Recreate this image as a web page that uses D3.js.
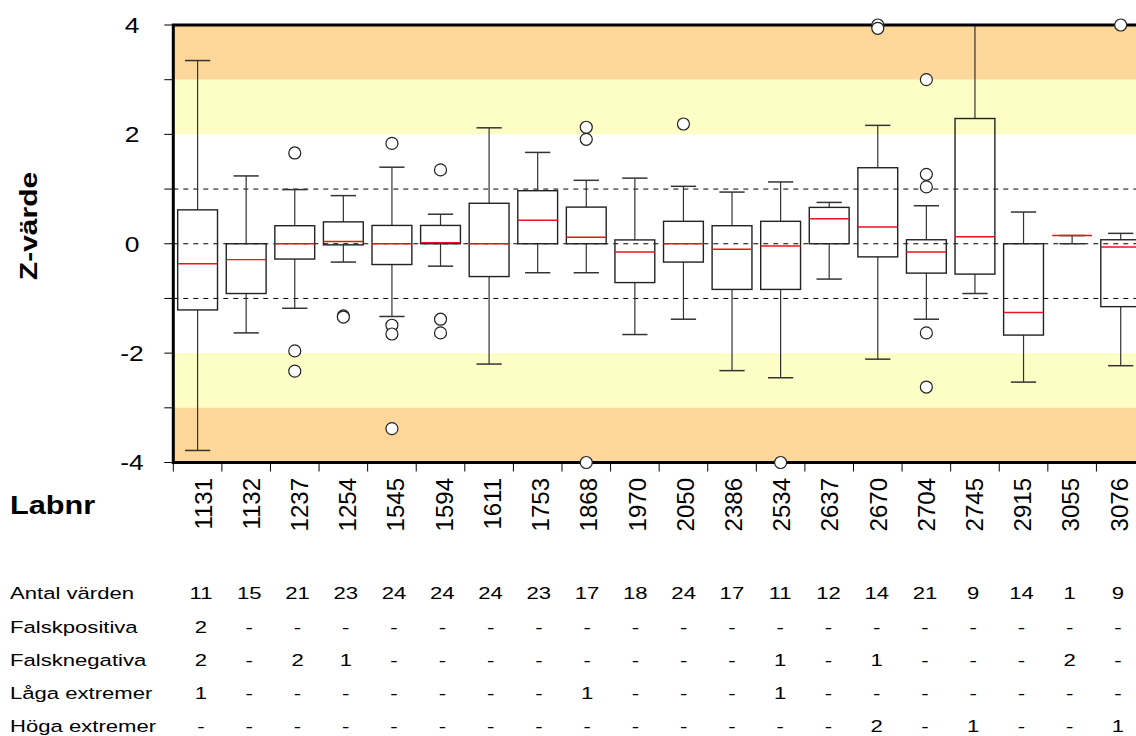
<!DOCTYPE html>
<html>
<head>
<meta charset="utf-8">
<script src="https://cdn.jsdelivr.net/npm/d3@7"></script>
<style>
  body { margin: 0; background: #fff; }
  text { font-family: Arial, "Liberation Sans", sans-serif; fill: #000; }
</style>
</head>
<body>
<svg width="1136" height="736"></svg>
<script>
// lab numbers (categories)
var labs = ["1131","1132","1237","1254","1545","1594","1611","1753","1868","1970",
            "2050","2386","2534","2637","2670","2704","2745","2915","3055","3076"];

// box statistics (z-values)
var lo  = [-3.78,-1.63,-1.18,-0.335,-1.33,-0.41,-2.2,-0.53,-0.53,-1.66,-1.38,-2.32,-2.45,-0.646,-2.11,-1.38,-0.91,-2.53,0,-2.23];
var q1  = [-1.21,-0.91,-0.28,-0.02,-0.38,0,-0.6,0,0,-0.71,-0.335,-0.835,-0.835,0,-0.24,-0.537,-0.555,-1.67,0.15,-1.15];
var med = [-0.366,-0.29,0,0.04,0,0.02,0,0.43,0.12,-0.15,0,-0.1,-0.04,0.457,0.305,-0.15,0.128,-1.256,0.15,-0.06];
var q3  = [0.62,0,0.33,0.4,0.335,0.335,0.74,0.97,0.67,0.07,0.41,0.33,0.41,0.665,1.39,0.073,2.29,0,0.15,0.073];
var hi  = [3.35,1.24,0.99,0.88,1.4,0.54,2.12,1.67,1.16,1.2,1.05,0.945,1.13,0.756,2.165,0.695,4,0.58,0.15,0.19];
var outliers = [[],[],[1.66,-1.96,-2.33],[-1.32,-1.34],[1.835,-1.49,-1.65,-3.38],[1.35,-1.38,-1.63],
                [],[],[2.13,1.91,-4],[],[2.19],[],[-4],[],[4,3.94],[3,1.27,1.04,-1.63,-2.62],
                [],[],[],[4]];

// y axis
var yTicks = [-4,-3,-2,-1,0,1,2,3,4];
var yLabels = [-4,-2,0,2,4];
var refLines = [-1,0,1];

// table under the chart
var rowNames = ["Antal värden","Falskpositiva","Falsknegativa","Låga extremer","Höga extremer"];
var antal    = ["11","15","21","23","24","24","24","23","17","18","24","17","11","12","14","21","9","14","1","9"];
var falskPos = ["2","-","-","-","-","-","-","-","-","-","-","-","-","-","-","-","-","-","-","-"];
var falskNeg = ["2","-","2","1","-","-","-","-","-","-","-","-","1","-","1","-","-","-","2","-"];
var lagaExt  = ["1","-","-","-","-","-","-","-","1","-","-","-","1","-","-","-","-","-","-","-"];
var hogaExt  = ["-","-","-","-","-","-","-","-","-","-","-","-","-","-","2","-","1","-","-","1"];
var tableRows = [antal, falskPos, falskNeg, lagaExt, hogaExt];

var svg = d3.select("svg");

var plotL = 173.3, plotR = 1145, plotT = 25, plotB = 462.5;
var SX = 1.3; // the picture's text runs wider than Arial

var x = d3.scaleBand().domain(labs).range([plotL, plotR]).paddingInner(0);
var y = d3.scaleLinear().domain([-4, 4]).range([plotB, plotT]);
var boxW = x.bandwidth() * 0.82;
var capW = x.bandwidth() * 0.52;

// text columns sit a little off the band centres
var xText = d3.scalePoint().domain(labs).range([203, 1119]);
var xTable = d3.scalePoint().domain(labs).range([201, 1118]);

// background zones
var zones = [
  {from: 3, to: 4, color: "#fdd699"},
  {from: 2, to: 3, color: "#fdfdc6"},
  {from: -3, to: -2, color: "#fdfdc6"},
  {from: -4, to: -3, color: "#fdd699"}
];
svg.append("g").selectAll("rect")
    .data(zones)
    .enter().append("rect")
    .attr("x", plotL)
    .attr("width", plotR - plotL)
    .attr("y", function(d) { return y(d.to); })
    .attr("height", function(d) { return y(d.from) - y(d.to); })
    .attr("fill", function(d) { return d.color; });

// reference lines at -1, 0, 1
svg.append("g").selectAll("line")
    .data(refLines)
    .enter().append("line")
    .attr("x1", plotL).attr("x2", plotR)
    .attr("y1", function(d) { return y(d); })
    .attr("y2", function(d) { return y(d); })
    .attr("stroke", "#000").attr("stroke-width", 1)
    .attr("stroke-dasharray", "5,5");

// boxes
var boxes = svg.append("g")
  .selectAll("g")
  .data(labs)
  .enter().append("g")
    .attr("transform", function(d) { return "translate(" + (x(d) + x.bandwidth() / 2) + ",0)"; });

// whiskers
boxes.append("line")
    .attr("x1", 0).attr("x2", 0)
    .attr("y1", function(d, i) { return y(hi[i]); })
    .attr("y2", function(d, i) { return y(q3[i]); })
    .attr("stroke", "#333").attr("stroke-width", 1.2);
boxes.append("line")
    .attr("x1", 0).attr("x2", 0)
    .attr("y1", function(d, i) { return y(q1[i]); })
    .attr("y2", function(d, i) { return y(lo[i]); })
    .attr("stroke", "#333").attr("stroke-width", 1.2);
boxes.append("line")
    .attr("x1", -capW / 2).attr("x2", capW / 2)
    .attr("y1", function(d, i) { return y(hi[i]); })
    .attr("y2", function(d, i) { return y(hi[i]); })
    .attr("stroke", "#333").attr("stroke-width", 1.5);
boxes.append("line")
    .attr("x1", -capW / 2).attr("x2", capW / 2)
    .attr("y1", function(d, i) { return y(lo[i]); })
    .attr("y2", function(d, i) { return y(lo[i]); })
    .attr("stroke", "#333").attr("stroke-width", 1.5);

// box body, no fill
boxes.append("rect")
    .attr("x", -boxW / 2)
    .attr("width", boxW)
    .attr("y", function(d, i) { return y(q3[i]); })
    .attr("height", function(d, i) { return y(q1[i]) - y(q3[i]); })
    .attr("fill", "none")
    .attr("stroke", "#222").attr("stroke-width", 1.4);

// median
boxes.append("line")
    .attr("x1", -boxW / 2).attr("x2", boxW / 2)
    .attr("y1", function(d, i) { return y(med[i]); })
    .attr("y2", function(d, i) { return y(med[i]); })
    .attr("stroke", "#e8141b").attr("stroke-width", 1.4);

// y axis ticks and labels
svg.append("g").selectAll("line")
    .data(yTicks)
    .enter().append("line")
    .attr("x1", plotL - 9).attr("x2", plotL)
    .attr("y1", function(d) { return y(d); })
    .attr("y2", function(d) { return y(d); })
    .attr("stroke", "#000").attr("stroke-width", 1);

svg.append("g").selectAll("text")
    .data(yLabels)
    .enter().append("text")
    .attr("transform", function(d) { return "translate(132," + y(d) + ") scale(1.2,1)"; })
    .attr("text-anchor", "middle")
    .attr("dy", "0.36em")
    .style("font-size", "22px")
    .text(function(d) { return d; });

// x axis ticks at band edges
var xEdges = labs.map(function(d) { return x(d); }).concat([plotR]);
svg.append("g").selectAll("line")
    .data(xEdges)
    .enter().append("line")
    .attr("x1", function(d) { return d; })
    .attr("x2", function(d) { return d; })
    .attr("y1", plotB).attr("y2", plotB + 9)
    .attr("stroke", "#000").attr("stroke-width", 1);

// frame: top, left, bottom
svg.append("path")
    .attr("d", "M" + plotR + "," + plotT + "H" + plotL + "V" + plotB + "H" + plotR)
    .attr("fill", "none")
    .attr("stroke", "#000").attr("stroke-width", 3);

// outliers on top of the frame
var pts = [];
outliers.forEach(function(arr, i) {
  arr.forEach(function(v) { pts.push({lab: labs[i], v: v}); });
});
svg.append("g").selectAll("circle")
    .data(pts)
    .enter().append("circle")
    .attr("cx", function(d) { return x(d.lab) + x.bandwidth() / 2; })
    .attr("cy", function(d) { return y(d.v); })
    .attr("r", 6)
    .attr("fill", "#fff")
    .attr("stroke", "#222").attr("stroke-width", 1.2);

// category labels, rotated
svg.append("g").selectAll("text")
    .data(labs)
    .enter().append("text")
    .attr("transform", function(d) { return "translate(" + xText(d) + ",478) rotate(-90)"; })
    .attr("text-anchor", "end")
    .attr("dy", "0.36em")
    .style("font-size", "24px")
    .text(function(d) { return d; });

// axis titles
svg.append("text")
    .attr("transform", "translate(28,226) rotate(-90) scale(1.25,1)")
    .attr("text-anchor", "middle")
    .attr("dy", "0.36em")
    .style("font-size", "24px")
    .style("font-weight", "bold")
    .text("Z-värde");

svg.append("text")
    .attr("transform", "translate(10,514) scale(1.18,1)")
    .style("font-size", "26px")
    .style("font-weight", "bold")
    .text("Labnr");

// table
var rowY = [593, 627, 660, 693, 726];
var rows = svg.append("g")
  .selectAll("g")
  .data(tableRows)
  .enter().append("g");

rows.append("text")
    .attr("transform", function(d, i) { return "translate(10," + rowY[i] + ") scale(" + SX + ",1)"; })
    .attr("dy", "0.36em")
    .style("font-size", "17px")
    .text(function(d, i) { return rowNames[i]; });

rows.each(function(vals, r) {
  d3.select(this).selectAll("text.cell")
    .data(vals)
    .enter().append("text")
      .attr("class", "cell")
      .attr("transform", function(d, i) { return "translate(" + xTable(labs[i]) + "," + rowY[r] + ") scale(" + SX + ",1)"; })
      .attr("text-anchor", "middle")
      .attr("dy", "0.36em")
      .style("font-size", "17px")
      .text(function(d) { return d; });
});
</script>
</body>
</html>
